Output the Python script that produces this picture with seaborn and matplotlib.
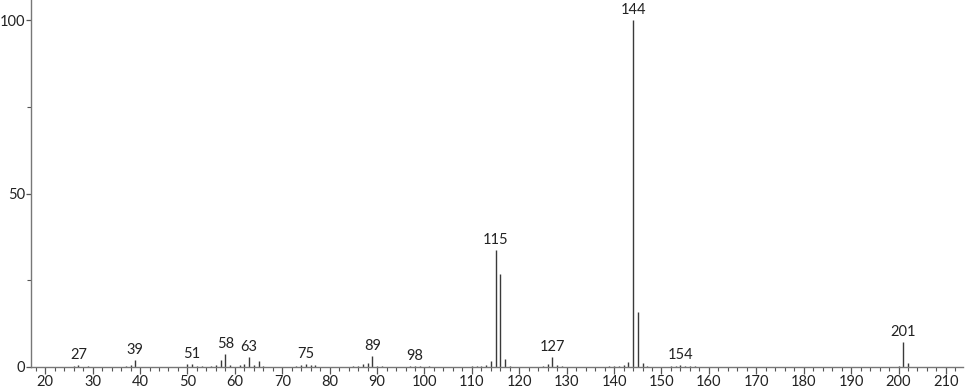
import matplotlib
matplotlib.use("Agg")
import matplotlib.pyplot as plt
import seaborn as sns
import numpy as np
import pandas as pd
from matplotlib.ticker import MultipleLocator

# m/z values and relative intensities (%)
mz = [26, 27, 29, 37, 38, 39, 50, 51, 52, 53, 55, 56, 57, 58, 59, 61, 62, 63, 64, 65, 66,
      73, 74, 75, 76, 77, 85, 86, 87, 88, 89, 90, 91, 97, 98, 99, 101,
      110, 111, 112, 113, 114, 115, 116, 117, 118, 125, 126, 127, 128, 129,
      139, 140, 141, 142, 143, 144, 145, 146, 147, 152, 153, 154, 155, 156, 157,
      200, 201, 202]
intensity = [0.3, 0.7, 0.4, 0.3, 0.5, 2.0, 0.9, 1.0, 0.4, 0.4, 0.4, 0.6, 2.0, 3.7, 0.5, 0.5, 1.0, 3.0, 0.5, 1.8, 0.3,
             0.4, 0.6, 1.0, 0.5, 0.5, 0.3, 0.4, 0.8, 1.1, 3.3, 0.4, 0.3, 0.3, 0.4, 0.3, 0.3,
             0.3, 0.3, 0.4, 0.7, 1.6, 33.7, 26.8, 2.2, 0.4, 0.3, 1.0, 3.0, 0.6, 0.3,
             0.3, 0.3, 0.4, 0.6, 1.5, 100.0, 15.9, 1.1, 0.3, 0.3, 0.3, 0.5, 0.3, 0.3, 0.3,
             0.3, 7.3, 1.1]
labeled = [27, 39, 51, 58, 63, 75, 89, 98, 115, 127, 144, 154, 201]

x_ticks = list(range(20, 211, 10))
y_ticks_major = [0, 50, 100]
y_ticks_minor = [25, 75]

df = pd.DataFrame({"mz": mz, "intensity": intensity})

sns.set_style("ticks")
plt.rcParams["font.family"] = ["Lato", "DejaVu Sans"]

fig = plt.figure(figsize=(9.66, 3.89), dpi=100)
ax = fig.add_axes([31 / 966, 22 / 389, 932 / 966, 367 / 389])

line_color = "#3a3a3a"
ax.vlines(df["mz"], 0, df["intensity"], color=line_color, linewidth=1.0)

for m in labeled:
    v = df.loc[df["mz"] == m, "intensity"].iloc[0]
    ax.annotate(str(m), xy=(m, v), xytext=(0, 2), textcoords="offset points",
                ha="center", va="bottom", fontsize=10.5, color="#222222")

ax.set_xlim(17.0, 213.6)
ax.set_ylim(0, 105.8)
ax.set_xticks(x_ticks)
ax.xaxis.set_minor_locator(MultipleLocator(2))
ax.set_yticks(y_ticks_major)
ax.set_yticks(y_ticks_minor, minor=True)

sns.despine(ax=ax, top=True, right=True)
for s in ["left", "bottom"]:
    ax.spines[s].set_color("#777777")
    ax.spines[s].set_linewidth(1.0)

ax.tick_params(axis="x", which="major", length=5, width=0.9, color="#555555",
               labelsize=10.5, labelcolor="#222222", pad=1)
ax.tick_params(axis="y", which="major", length=3.5, width=0.9, color="#555555",
               labelsize=10.5, labelcolor="#222222", pad=0.5)
ax.tick_params(axis="both", which="minor", length=3, width=0.8, color="#555555")
ax.set_xlabel("")
ax.set_ylabel("")
ax.patch.set_alpha(0)

fig.savefig("out.png", dpi=100)
